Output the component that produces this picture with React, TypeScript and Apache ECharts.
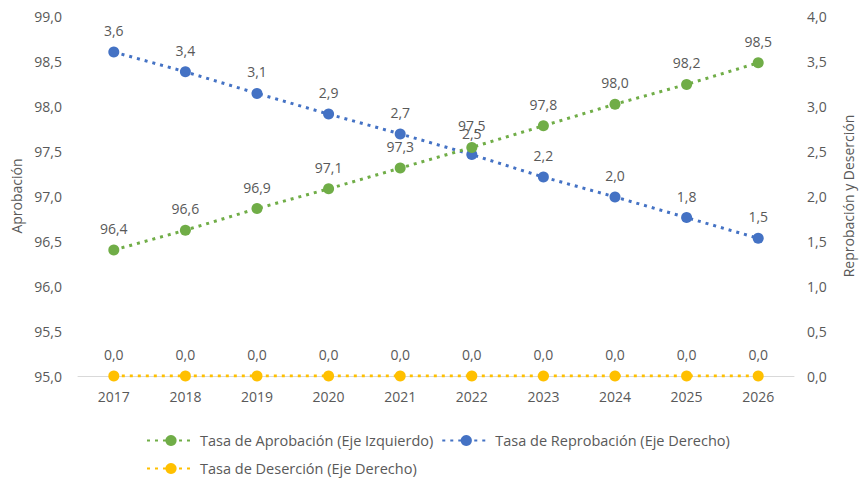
import React, { useEffect, useRef } from "react";
import * as echarts from "echarts";

const years = ["2017", "2018", "2019", "2020", "2021", "2022", "2023", "2024", "2025", "2026"];
const aprobacion = [96.4, 96.62, 96.86, 97.08, 97.31, 97.54, 97.78, 98.02, 98.24, 98.48];
const reprobacion = [3.6, 3.38, 3.14, 2.91, 2.69, 2.46, 2.21, 1.99, 1.76, 1.53];
const desercion = [0, 0, 0, 0, 0, 0, 0, 0, 0, 0];

const FONT = "Open Sans";
const GRAY = "#595959";
const fmt = (v: number) => v.toFixed(1).replace(".", ",");

export default function App() {
  const ref = useRef<HTMLDivElement>(null);
  useEffect(() => {
    if (!ref.current) return;
    const chart = echarts.init(ref.current, undefined, { renderer: "svg" });
    const mkSeries = (name: string, data: number[], color: string, axis: number) => ({
      name,
      type: "line",
      yAxisIndex: axis,
      data,
      symbol: "circle",
      symbolSize: 11,
      itemStyle: { color },
      lineStyle: { color, width: 3, type: [3, 5] },
      label: {
        show: true,
        position: "top",
        distance: 9,
        color: GRAY,
        fontFamily: FONT,
        fontSize: 14,
        formatter: (p: any) => fmt(p.value),
      },
      z: axis === 0 ? 3 : 2,
    });
    const legendText = { color: GRAY, fontFamily: FONT, fontSize: 14.5 };
    chart.setOption({
      animation: false,
      textStyle: { fontFamily: FONT },
      grid: { left: 78, right: 61, top: 16, bottom: 103, containLabel: false },
      legend: [
        {
          data: ["Tasa de Aprobación (Eje Izquierdo)", "Tasa de Reprobación (Eje Derecho)"],
          left: 141,
          top: 428,
          itemWidth: 48,
          itemHeight: 14,
          itemGap: 8,
          textStyle: legendText,
        },
        {
          data: ["Tasa de Deserción (Eje Derecho)"],
          left: 141,
          top: 456,
          itemWidth: 48,
          itemHeight: 14,
          textStyle: legendText,
        },
      ],
      xAxis: {
        type: "category",
        data: years,
        boundaryGap: true,
        axisLine: { show: true, lineStyle: { color: "#d9d9d9", width: 1 } },
        axisTick: { show: false },
        axisLabel: { color: GRAY, fontFamily: FONT, fontSize: 14, margin: 13 },
      },
      yAxis: [
        {
          type: "value",
          min: 95,
          max: 99,
          interval: 0.5,
          name: "Aprobación",
          nameLocation: "middle",
          nameGap: 54,
          nameTextStyle: { color: GRAY, fontFamily: FONT, fontSize: 14 },
          axisLine: { show: false },
          axisTick: { show: false },
          splitLine: { show: false },
          axisLabel: { color: GRAY, fontFamily: FONT, fontSize: 14, margin: 16, formatter: (v: number) => fmt(v) },
        },
        {
          type: "value",
          min: 0,
          max: 4,
          interval: 0.5,
          name: "Reprobación y Deserción",
          nameLocation: "middle",
          nameGap: 47,
          nameTextStyle: { color: GRAY, fontFamily: FONT, fontSize: 14 },
          axisLine: { show: false },
          axisTick: { show: false },
          splitLine: { show: false },
          axisLabel: { color: GRAY, fontFamily: FONT, fontSize: 14, margin: 13, formatter: (v: number) => fmt(v) },
        },
      ],
      series: [
        mkSeries("Tasa de Aprobación (Eje Izquierdo)", aprobacion, "#70AD47", 0),
        mkSeries("Tasa de Reprobación (Eje Derecho)", reprobacion, "#4472C4", 1),
        mkSeries("Tasa de Deserción (Eje Derecho)", desercion, "#FFC000", 1),
      ],
    });
    return () => chart.dispose();
  }, []);
  return <div ref={ref} style={{ position: "absolute", left: 0, top: 0, width: 863, height: 479 }} />;
}
